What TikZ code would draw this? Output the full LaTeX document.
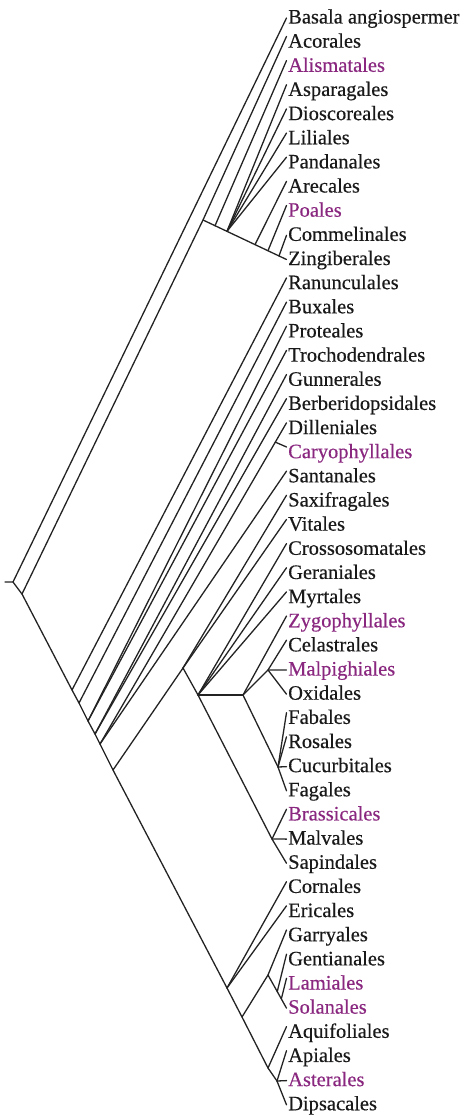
\documentclass[tikz,border=0pt]{standalone}
\usepackage{fontspec}
\setmainfont{Liberation Serif}
\newfontfamily\lblfont{Liberation Serif}[FakeBold=0.4]
\usetikzlibrary{calc}
\definecolor{lin}{RGB}{35,35,35}
\definecolor{blk}{RGB}{25,25,25}
\definecolor{pur}{RGB}{138,40,128}
\begin{document}
\begin{tikzpicture}[x=1pt,y=-1pt,
  lbl/.style={anchor=base west, inner xsep=1.5pt, inner ysep=0pt, text height=11pt, text depth=0pt, font=\lblfont\fontsize{20.5}{24}\selectfont},
  br/.style={draw=lin, line width=1.3pt, line cap=round, line join=round}]
\useasboundingbox (0,0) rectangle (465,1116);
% labels
\foreach \t/\c [count=\i from 0] in {
 Basala angiospermer/blk, Acorales/blk, Alismatales/pur, Asparagales/blk, Dioscoreales/blk,
 Liliales/blk, Pandanales/blk, Arecales/blk, Poales/pur, Commelinales/blk, Zingiberales/blk,
 Ranunculales/blk, Buxales/blk, Proteales/blk, Trochodendrales/blk, Gunnerales/blk,
 Berberidopsidales/blk, Dilleniales/blk, Caryophyllales/pur, Santanales/blk, Saxifragales/blk,
 Vitales/blk, Crossosomatales/blk, Geraniales/blk, Myrtales/blk, Zygophyllales/pur,
 Celastrales/blk, Malpighiales/pur, Oxidales/blk, Fabales/blk, Rosales/blk, Cucurbitales/blk,
 Fagales/blk, Brassicales/pur, Malvales/blk, Sapindales/blk, Cornales/blk, Ericales/blk,
 Garryales/blk, Gentianales/blk, Lamiales/pur, Solanales/pur, Aquifoliales/blk, Apiales/blk,
 Asterales/pur, Dipsacales/blk}
  \node[lbl, text=\c] (l\i) at (286.5,{23.5+24.15*\i}) {\t};
% internal nodes
\coordinate (st) at (5,582);
\coordinate (R0) at (13,582);
\coordinate (N1) at (22,594);
\coordinate (M) at (203,220);
\coordinate (E1) at (72,690);
\coordinate (E2) at (79,703);
\coordinate (E3) at (88,721);
\coordinate (E4) at (95,734);
\coordinate (E5) at (100,744);
\coordinate (E6) at (113,770);
\coordinate (A) at (227,988);
\coordinate (P) at (183,668);
\coordinate (Q) at (198,695);
\coordinate (F) at (243,695);
\coordinate (COM) at (268,670);
\coordinate (NF) at (278,767);
\coordinate (MV) at (272,839);
\coordinate (A2) at (242,1017);
\coordinate (L1) at (268,975);
\coordinate (C1) at (268,1068);
\coordinate (C2) at (277,1081);
\coordinate (B1) at ($(M)!0.144!(l10.west)$);
\coordinate (B2) at ($(M)!0.287!(l10.west)$);
\coordinate (B3) at ($(M)!0.623!(l10.west)$);
\coordinate (B4) at ($(M)!0.778!(l10.west)$);
\coordinate (B5) at ($(M)!0.91!(l10.west)$);
\coordinate (DC) at ($(E5)!0.94!(l17.north west)$);
\coordinate (L2) at ($(L1)!0.5!(l41.west)$);
\coordinate (L3) at ($(L1)!0.72!(l41.west)$);
% root
\draw[br] (st) -- (R0) -- (l0.west);
\draw[br] (R0) -- (N1) -- (M) -- (l1.north west);
% monocots
\draw[br] (M) -- (l10.west);
\draw[br] (B1) -- (l2.north west);
\foreach \k in {3,4,5,6} \draw[br] (B2) -- (l\k.north west);
\draw[br] (B3) -- (l7.north west);
\draw[br] (B4) -- (l8.north west);
\draw[br] (B5) -- (l9.west);
% eudicot backbone
\draw[br] (N1) -- (E1) -- (E2) -- (E3) -- (E4) -- (E5) -- (E6) -- (A);
\draw[br] (E1) -- (l11.north west);
\draw[br] (E2) -- (l12.north west);
\draw[br] (E3) -- (l13.north west);
\draw[br] (E3) -- (l14.north west);
\draw[br] (E4) -- (l15.north west);
\draw[br] (E4) -- (l16.north west);
\draw[br] (E5) -- (l17.north west);
\draw[br] (DC) -- (l18.north west);
\draw[br] (E5) -- (l19.north west);
% rosids
\draw[br] (E6) -- (P) -- (Q);
\draw[br] (P) -- (l20.north west);
\draw[br] (P) -- (l21.north west);
\foreach \k in {22,23,24} \draw[br] (Q) -- (l\k.north west);
\draw[br] (Q) -- (F);
\draw[br] (F) -- (l25.north west);
\draw[br] (F) -- (COM) -- (l26.north west);
\draw[br] (COM) -- (l27.west);
\draw[br] (COM) -- (l28.west);
\draw[br] (F) -- (NF) -- (l32.west);
\draw[br] (NF) -- (l29.north west);
\draw[br] (NF) -- (l30.north west);
\draw[br] (NF) -- (l31.west);
\draw[br] (Q) -- (MV) -- (l35.west);
\draw[br] (MV) -- (l33.north west);
\draw[br] (MV) -- (l34.west);
% asterids
\draw[br] (A) -- (l36.north west);
\draw[br] (A) -- (l37.north west);
\draw[br] (A) -- (A2) -- (C1) -- (C2) -- (l45.west);
\draw[br] (A2) -- (L1) -- (l38.north west);
\draw[br] (L1) -- (l41.west);
\draw[br] (L2) -- (l39.north west);
\draw[br] (L3) -- (l40.north west);
\draw[br] (C1) -- (l42.north west);
\draw[br] (C2) -- (l43.north west);
\draw[br] (C2) -- (l44.west);
\end{tikzpicture}
\end{document}
